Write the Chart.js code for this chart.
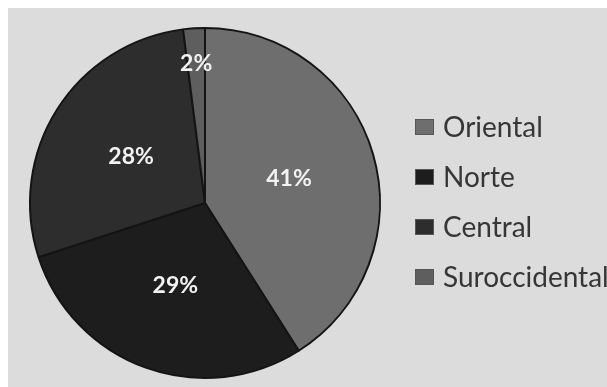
<!DOCTYPE html>
<html>
<head>
<meta charset="utf-8">
<script src="https://cdn.jsdelivr.net/npm/chart.js@4"></script>
<style>
  body { margin: 0; background: #fff; }
  #wrap { position: absolute; left: 8px; top: 8px; width: 599px; height: 379px; background: #dcdcdc; overflow: hidden; }
</style>
</head>
<body>
<div id="wrap"><canvas id="regionChart" width="599" height="379"></canvas></div>
<script>
const regions = ["Oriental", "Norte", "Central", "Suroccidental"];
const shares = [41, 29, 28, 2];
const sliceColors = ["#6e6e6e", "#1d1d1d", "#2d2d2d", "#5e5e5e"];

// percent labels inside each slice + legend on the right
const sliceLabels = {
    id: "sliceLabels",
    afterDraw(chart) {
        const ctx = chart.ctx;
        const arcs = chart.getDatasetMeta(0).data;
        ctx.save();
        ctx.fillStyle = "#f2f2f2";
        ctx.font = "bold 23px Lato";
        ctx.textAlign = "center";
        ctx.textBaseline = "middle";
        arcs.forEach(function (arc, i) {
            const mid = (arc.startAngle + arc.endAngle) / 2;
            const f = shares[i] < 5 ? 0.8 : 0.5; // thin slice: push label outward
            const x = arc.x + Math.cos(mid) * arc.outerRadius * f;
            const y = arc.y + Math.sin(mid) * arc.outerRadius * f;
            ctx.fillText(shares[i] + "%", x, y);
        });

        // legend
        ctx.font = "28px Lato";
        ctx.textAlign = "left";
        regions.forEach(function (name, i) {
            const cy = 119 + i * 50;
            ctx.fillStyle = sliceColors[i];
            ctx.fillRect(407, cy - 8, 19, 16);
            ctx.strokeStyle = "#555";
            ctx.lineWidth = 1;
            ctx.strokeRect(407.5, cy - 7.5, 18, 15);
            ctx.fillStyle = "#363636";
            ctx.fillText(name, 435, cy + 1);
        });
        ctx.restore();
    }
};

new Chart("regionChart", {
    type: "pie",
    data: {
        labels: regions,
        datasets: [{
            data: shares,
            backgroundColor: sliceColors,
            borderColor: "#141414",
            borderWidth: 2
        }]
    },
    options: {
        responsive: false,
        animation: false,
        devicePixelRatio: 1,
        layout: { padding: { left: 21, top: 19, right: 226, bottom: 8 } },
        plugins: {
            legend: { display: false },
            tooltip: { enabled: false }
        }
    },
    plugins: [sliceLabels]
});
</script>
</body>
</html>
